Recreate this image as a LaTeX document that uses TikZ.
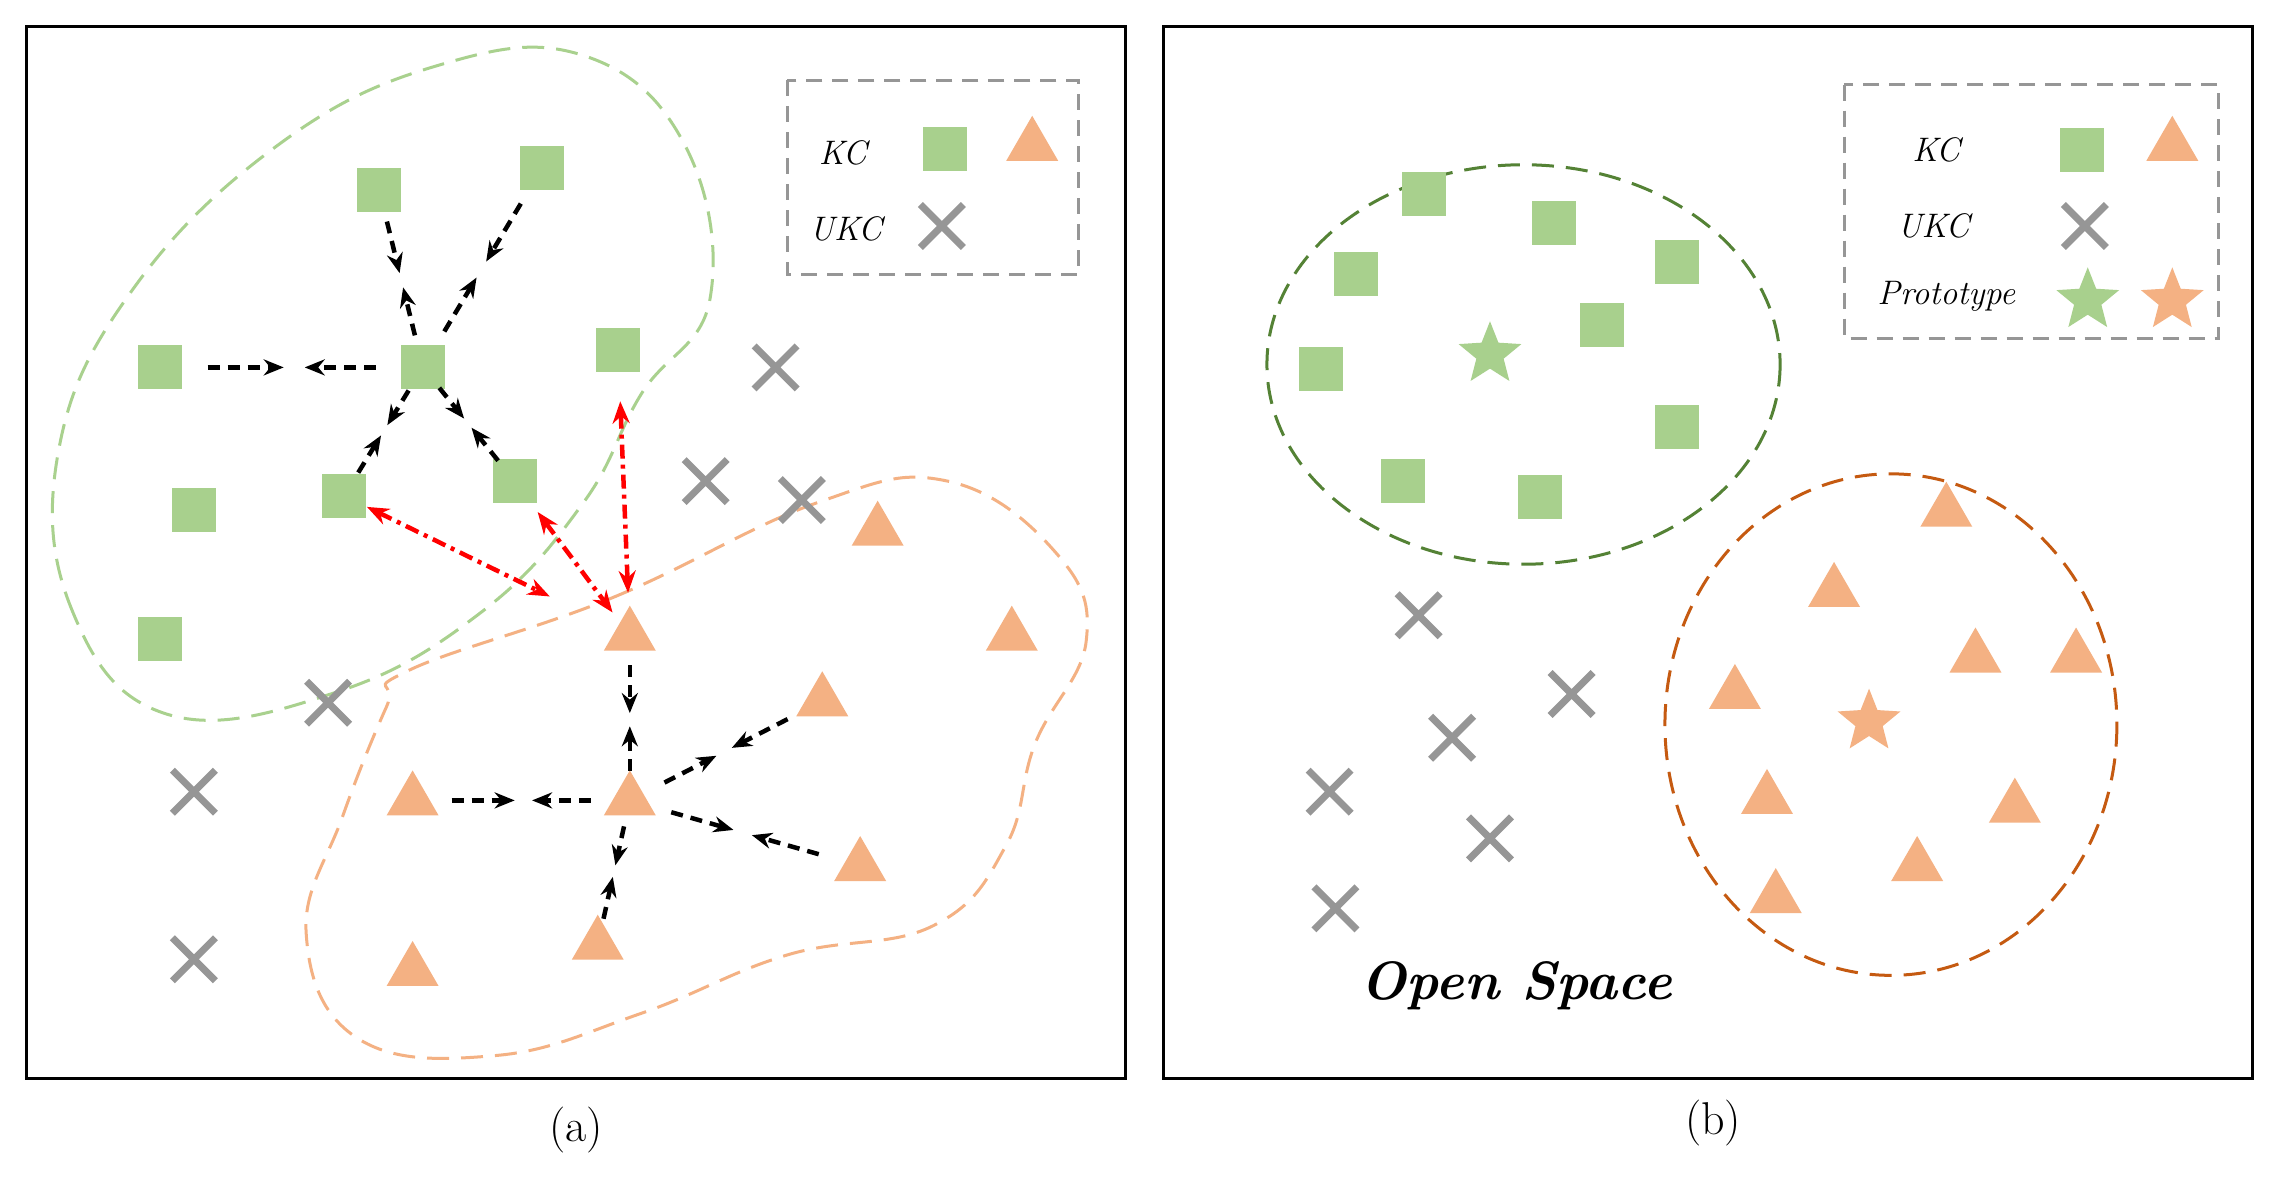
\documentclass[tikz,border=0pt]{standalone}
\usetikzlibrary{shapes.geometric,shapes.misc,arrows.meta,calc}
\definecolor{gsq}{RGB}{168,208,141}
\definecolor{otr}{RGB}{244,177,131}
\definecolor{gcr}{RGB}{150,150,150}
\definecolor{gline}{RGB}{169,209,142}
\definecolor{oline}{RGB}{244,177,131}
\definecolor{dg}{RGB}{84,130,53}
\definecolor{dor}{RGB}{197,90,17}
\begin{document}
\begin{tikzpicture}[x=1.458pt,y=-1.458pt,
 sq/.style={rectangle,fill=gsq,minimum size=44pt,inner sep=0},
 tri/.style={regular polygon,regular polygon sides=3,fill=otr,minimum size=60pt,inner sep=0},
 crs/.style={cross out,draw=gcr,line width=7pt,minimum size=36pt,inner sep=0},
 gst/.style={star,star points=5,star point ratio=2.3,fill=gsq,minimum size=66pt,inner sep=0},
 ost/.style={star,star points=5,star point ratio=2.3,fill=otr,minimum size=66pt,inner sep=0},
 frame/.style={draw=black,line width=3pt},
 leg/.style={draw=gcr,line width=3pt,dash pattern=on 16pt off 10pt},
 lt/.style={font=\fontsize{34}{40}\selectfont\itshape},
 arr/.style={draw=black,line width=4.5pt,dash pattern=on 12pt off 8pt,-{Stealth[length=20pt,width=16pt]}},
 rarr/.style={draw=red,line width=4.5pt,dash pattern=on 14pt off 6pt on 4pt off 6pt,{Stealth[length=22pt,width=17pt]}-{Stealth[length=22pt,width=17pt]}},
 blob/.style={line width=3pt,dash pattern=on 22pt off 12pt}]
\useasboundingbox (0,0) rectangle (1568,808);
\fill[white] (0,0) rectangle (1568,808);
% ---------- panel (a)
\draw[frame] (18,18) rectangle (772,740);
\draw[blob,draw=gline] plot[smooth cycle,tension=0.7] coordinates{(115,490)(50,420)(40,310)(90,200)(190,100)(300,45)(400,38)(470,100)(487,205)(440,270)(400,345)(330,420)(230,475)};
\draw[blob,draw=oline] plot[smooth cycle,tension=0.7] coordinates{(280,460)(420,410)(560,345)(650,330)(725,380)(745,440)(710,510)(690,580)(640,635)(540,655)(440,695)(340,724)(245,712)(210,640)(235,560)(265,485)};
\draw[leg] (540,55) rectangle (740,188);
\node[lt] at (578,105) {KC};
\node[sq] (l1) at (648,102) {};
\node[tri] (l2) at (708,100) {};
\node[lt] at (580,157) {UKC};
\node[crs] (l3) at (646,155) {};
\node[sq] (a1) at (260,130) {};
\node[sq] (a2) at (372,115) {};
\node[sq] (a3) at (110,252) {};
\node[sq] (c) at (290,252) {};
\node[sq] (a5) at (424,240) {};
\node[sq] (a6) at (133,350) {};
\node[sq] (a7) at (236,340) {};
\node[sq] (a8) at (353,330) {};
\node[sq] (a9) at (110,438) {};
\foreach \n/\p in {x1/{(532,252)},x2/{(484,330)},x3/{(550,343)},x4/{(225,482)},x5/{(133,543)},x6/{(133,658)}} \node[crs] (\n) at \p {};
\node[tri] (t1) at (602,364) {};
\node[tri] (t2) at (432,436) {};
\node[tri] (t3) at (694,436) {};
\node[tri] (t4) at (564,481) {};
\node[tri] (t5) at (283,549) {};
\node[tri] (o) at (432,549) {};
\node[tri] (t7) at (590,594) {};
\node[tri] (t8) at (283,666) {};
\node[tri] (t9) at (410,648) {};
\foreach \a/\b in {c/a1,c/a2,c/a3,c/a7,c/a8,o/t2,o/t4,o/t5,o/t7,o/t9}{
 \draw[arr] ($(\a)!0.18!(\b)$) -- ($(\a)!0.45!(\b)$);
 \draw[arr] ($(\b)!0.18!(\a)$) -- ($(\b)!0.47!(\a)$);}
\draw[rarr] ($(a7)!0.08!(t2)$) -- ($(a7)!0.72!(t2)$);
\draw[rarr] ($(a8)!0.2!(t2)$) -- ($(a8)!0.85!(t2)$);
\draw[rarr] ($(a5)!0.18!(t2)$) -- ($(a5)!0.85!(t2)$);
\node[font=\fontsize{46}{52}\selectfont] at (395,775) {(a)};
% ---------- panel (b)
\draw[frame] (798,18) rectangle (1545,740);
\draw[blob,draw=dg] (1045,250) ellipse[x radius=176,y radius=137];
\draw[blob,draw=dor] (1297,497) ellipse[x radius=155,y radius=172];
\draw[leg] (1265,58) rectangle (1522,232);
\node[lt] at (1328,103) {KC};
\node[sq] (m1) at (1428,103) {};
\node[tri] (m2) at (1490,100) {};
\node[lt] at (1326,155) {UKC};
\node[crs] (m3) at (1430,155) {};
\node[lt] at (1335,203) {Prototype};
\node[gst] (m4) at (1432,206) {};
\node[ost] (m5) at (1490,206) {};
\foreach \n/\p in {b1/{(977,133)},b2/{(1066,153)},b3/{(1150,180)},b4/{(930,188)},b5/{(1099,223)},b6/{(906,253)},b7/{(1150,293)},b8/{(962,330)},b9/{(1056,341)}} \node[sq] (\n) at \p {};
\node[gst] (gs) at (1022,243) {};
\foreach \n/\p in {y1/{(973,422)},y2/{(1078,476)},y3/{(996,506)},y4/{(912,543)},y5/{(1022,575)},y6/{(916,623)}} \node[crs] (\n) at \p {};
\foreach \n/\p in {u1/{(1335,351)},u2/{(1258,406)},u3/{(1190,476)},u4/{(1355,451)},u5/{(1424,451)},u6/{(1212,548)},u7/{(1382,554)},u8/{(1315,594)},u9/{(1218,616)}} \node[tri] (\n) at \p {};
\node[ost] (os) at (1282,495) {};
\node[font=\fontsize{54}{60}\selectfont\itshape\bfseries] at (1040,676) {Open Space};
\node[font=\fontsize{46}{52}\selectfont] at (1175,770) {(b)};
\end{tikzpicture}
\end{document}
